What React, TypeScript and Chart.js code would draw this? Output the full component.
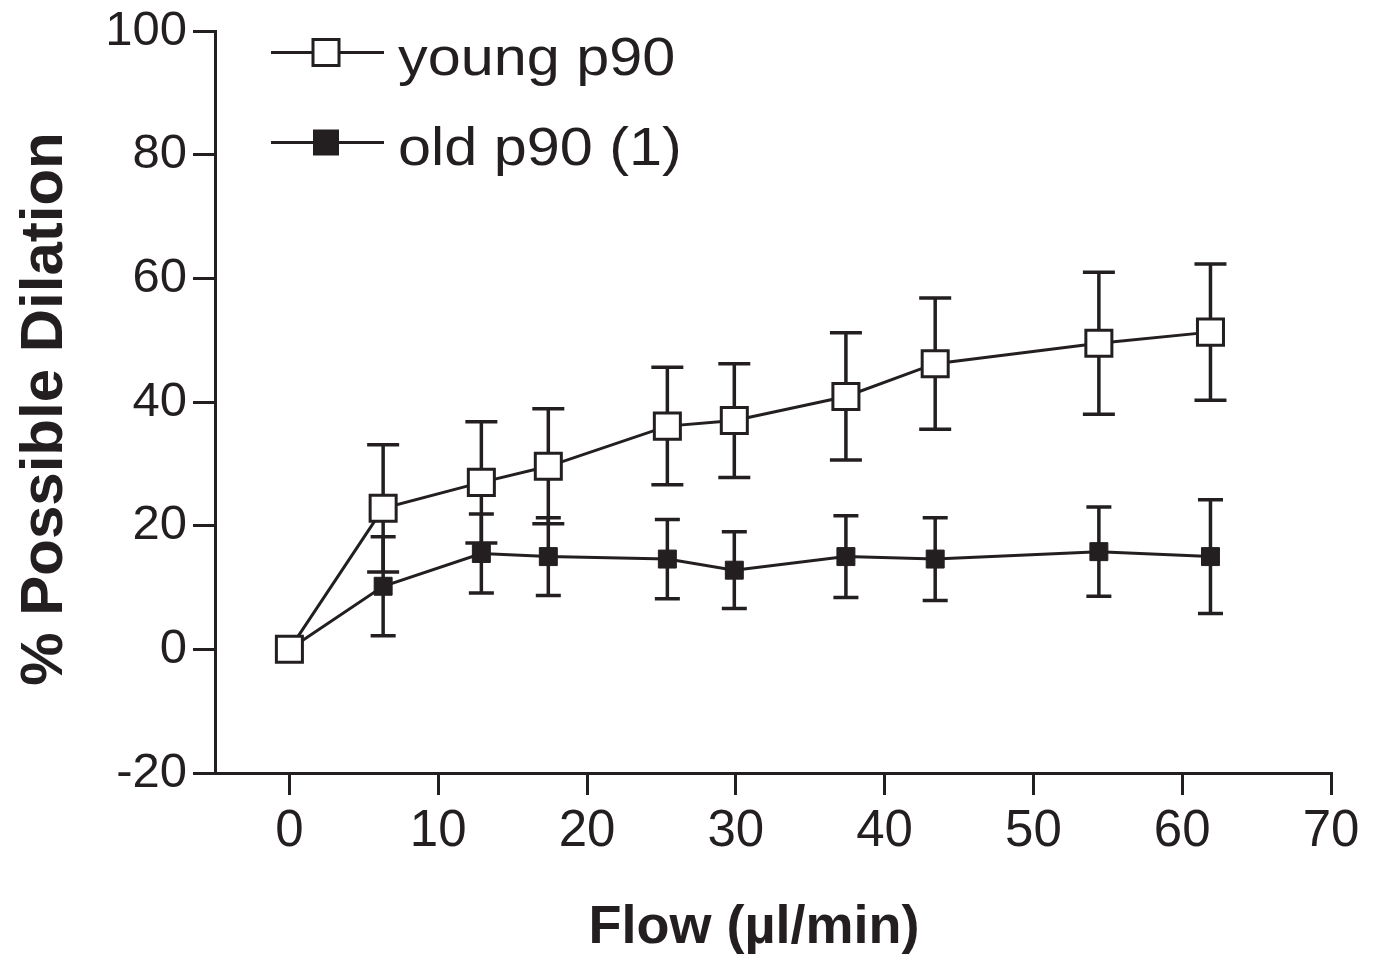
import React, { useEffect, useRef } from "react";
import { Chart, registerables } from "chart.js";

Chart.register(...registerables);

// ---- Data ----
const flow = [0, 6.3, 12.9, 17.4, 25.4, 29.9, 37.4, 43.4, 54.4, 61.9];
const youngMean = [0, 22.8, 27.0, 29.6, 36.1, 37.0, 40.9, 46.2, 49.5, 51.3];
const youngErr = [0, 10.3, 9.8, 9.3, 9.5, 9.2, 10.3, 10.6, 11.5, 11.0];
const oldMean = [0, 10.2, 15.5, 15.0, 14.6, 12.8, 15.0, 14.6, 15.8, 15.0];
const oldErr = [0, 8.0, 6.4, 6.3, 6.4, 6.2, 6.6, 6.7, 7.2, 9.2];
const xTicks = [0, 10, 20, 30, 40, 50, 60, 70];
const yTicks = [-20, 0, 20, 40, 60, 80, 100];
const seriesLabels = ["young p90", "old p90 (1)"];
const xTitle = "Flow (µl/min)";
const yTitle = "% Possible Dilation";

const INK = "#231f20";
const FONT = "'Liberation Sans', Arial, Helvetica, sans-serif";

const errorBarPlugin = {
  id: "errorBars",
  beforeDatasetsDraw(chart: any) {
    const { ctx } = chart;
    const xs = chart.scales.x;
    const ys = chart.scales.y;
    chart.data.datasets.forEach((ds: any) => {
      const errs: number[] = ds.errors || [];
      const half = ds.capHalf || 14;
      ctx.save();
      ctx.strokeStyle = INK;
      ctx.lineWidth = 3.5;
      ds.data.forEach((p: any, i: number) => {
        const e = errs[i];
        if (!e) return;
        const px = xs.getPixelForValue(p.x);
        const top = ys.getPixelForValue(p.y + e);
        const bot = ys.getPixelForValue(p.y - e);
        ctx.beginPath();
        ctx.moveTo(px, top);
        ctx.lineTo(px, bot);
        ctx.moveTo(px - half, top);
        ctx.lineTo(px + half, top);
        ctx.moveTo(px - half, bot);
        ctx.lineTo(px + half, bot);
        ctx.stroke();
      });
      ctx.restore();
    });
  },
};

const legendAndTitlesPlugin = {
  id: "legendTitles",
  afterDraw(chart: any) {
    const { ctx } = chart;
    ctx.save();
    // Legend
    const rows = [52.5, 142.5];
    chart.data.datasets.forEach((ds: any, i: number) => {
      const y = rows[i];
      ctx.strokeStyle = INK;
      ctx.lineWidth = 3;
      ctx.beginPath();
      ctx.moveTo(271, y);
      ctx.lineTo(384, y);
      ctx.stroke();
      const s = 26;
      if (ds.legendFilled) {
        ctx.fillStyle = INK;
        ctx.fillRect(326 - s / 2, y - s / 2, s, s);
      } else {
        ctx.fillStyle = "#ffffff";
        ctx.fillRect(326 - s / 2, y - s / 2, s, s);
        ctx.lineWidth = 3;
        ctx.strokeRect(326 - s / 2, y - s / 2, s, s);
      }
      ctx.save();
      ctx.translate(398, y + 22);
      ctx.scale(1.12, 1);
      ctx.fillStyle = INK;
      ctx.font = `53px ${FONT}`;
      ctx.textAlign = "left";
      ctx.textBaseline = "alphabetic";
      ctx.fillText(ds.label, 0, 0);
      ctx.restore();
    });
    // Axis titles
    ctx.fillStyle = INK;
    ctx.font = `bold 54px ${FONT}`;
    ctx.textAlign = "center";
    ctx.textBaseline = "alphabetic";
    ctx.fillText(xTitle, 754, 943);

    ctx.save();
    ctx.translate(62, 409);
    ctx.rotate(-Math.PI / 2);
    ctx.font = `bold 60px ${FONT}`;
    ctx.textAlign = "center";
    ctx.textBaseline = "alphabetic";
    ctx.fillText(yTitle, 0, 0);
    ctx.restore();
    ctx.restore();
  },
};

export default function App() {
  const ref = useRef<HTMLCanvasElement>(null);

  useEffect(() => {
    if (!ref.current) return;
    const chart = new Chart(ref.current, {
      type: "line",
      data: {
        datasets: [
          {
            label: seriesLabels[0],
            data: flow.map((x, i) => ({ x, y: youngMean[i] })),
            borderColor: INK,
            borderWidth: 3,
            pointStyle: "rect",
            pointRadius: 18.4,
            pointBackgroundColor: "#ffffff",
            pointBorderColor: INK,
            pointBorderWidth: 3,
            tension: 0,
            errors: youngErr,
            capHalf: 16,
            legendFilled: false,
          } as any,
          {
            label: seriesLabels[1],
            data: flow.map((x, i) => ({ x, y: oldMean[i] })),
            borderColor: INK,
            borderWidth: 3,
            pointStyle: "rect",
            pointRadius: 12.7,
            pointBackgroundColor: INK,
            pointBorderColor: INK,
            pointBorderWidth: 1,
            tension: 0,
            errors: oldErr,
            capHalf: 12.5,
            legendFilled: true,
          } as any,
        ],
      },
      options: {
        animation: false,
        responsive: false,
        devicePixelRatio: 1,
        layout: { padding: { top: 31, right: 47, left: 0, bottom: 0 } },
        plugins: {
          legend: { display: false },
          tooltip: { enabled: false },
        },
        scales: {
          x: {
            type: "linear",
            min: -5,
            max: 70,
            afterBuildTicks: (s: any) => {
              s.ticks = xTicks.map((v) => ({ value: v }));
            },
            afterFit: (s: any) => {
              s.height = 187;
              s.paddingLeft = 0;
              s.paddingRight = 0;
            },
            ticks: {
              color: INK,
              font: { family: FONT, size: 51 },
              padding: 6,
              maxRotation: 0,
            },
            grid: {
              drawOnChartArea: false,
              drawTicks: true,
              tickLength: 22,
              color: INK,
              lineWidth: 3,
            },
            border: { display: true, color: INK, width: 3 },
          },
          y: {
            type: "linear",
            min: -20,
            max: 100,
            afterBuildTicks: (s: any) => {
              s.ticks = yTicks.map((v) => ({ value: v }));
            },
            afterFit: (s: any) => {
              s.width = 215;
              s.paddingTop = 0;
              s.paddingBottom = 0;
            },
            ticks: {
              color: INK,
              font: { family: FONT, size: 49 },
              padding: 6,
            },
            grid: {
              drawOnChartArea: false,
              drawTicks: true,
              tickLength: 22,
              color: INK,
              lineWidth: 3,
            },
            border: { display: true, color: INK, width: 3 },
          },
        },
      } as any,
      plugins: [errorBarPlugin, legendAndTitlesPlugin],
    });
    return () => chart.destroy();
  }, []);

  return (
    <div style={{ position: "absolute", left: 0, top: 0, width: 1378, height: 960, background: "#ffffff" }}>
      <canvas ref={ref} width={1378} height={960} style={{ display: "block" }} />
    </div>
  );
}
